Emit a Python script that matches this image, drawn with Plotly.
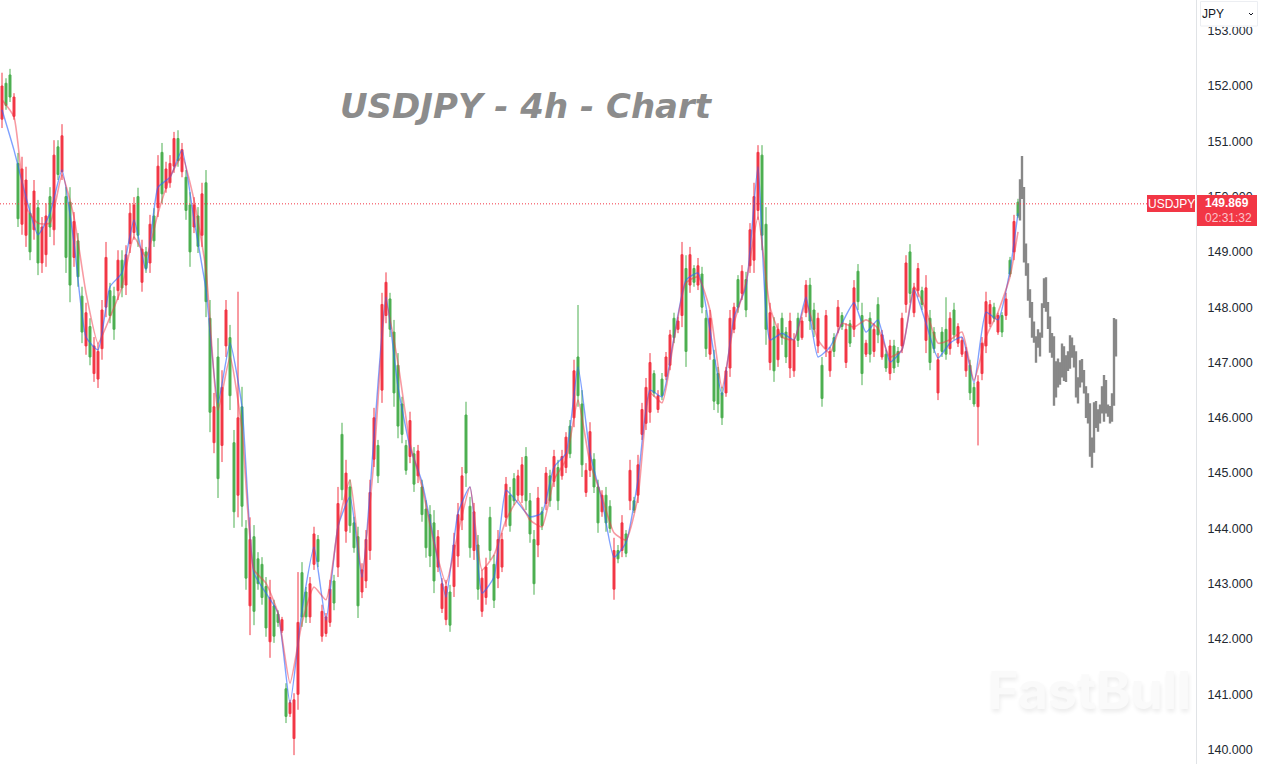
import plotly.graph_objects as go

TITLE = "USDJPY - 4h - Chart"
TICK_VALUES = [140, 141, 142, 143, 144, 145, 146, 147, 148, 149, 150, 151, 152, 153]
LAST_PRICE = 149.869

highs = [
    152.24,152.14,152.31,151.87,150.79,150.72,150.54,149.88,150.30,149.94,149.63,149.88,150.17,151.02,151.02,151.31,150.17,150.17,149.72,149.34,
    148.37,148.08,147.80,147.46,147.35,148.13,149.18,148.44,148.37,149.03,149.03,149.12,149.88,149.99,150.16,149.22,149.09,149.67,149.79,150.75,
    150.97,150.63,150.75,151.17,151.20,150.97,150.48,150.08,149.99,149.81,150.25,150.48,
    148.13,146.45,147.44,146.86,148.13,147.68,145.78,148.28,146.56,144.15,144.2,144.06,143.57,143.48,143.12,143.07,142.71,142.52,142.4,141.2,
    140.9,141.02,143.21,143.39,142.94,143.12,144.03,143.88,142.62,142.47,143.07,143.16,144.75,145.91,145.24,144.88,144.21,144.03,143.37,143.97,
    144.88,146.18,145.6,148.26,148.63,148.26,147.77,147.17,146.38,145.6,146.11,145.47,145.51,144.88,144.51,144.42,144.33,143.97,143.1,143.07,
    142.98,143.92,144.46,145.11,146.29,144.57,144.46,143.88,143.25,143.47,144.39,143.52,143.97,143.92,144.93,144.75,145.0,145.06,145.29,145.47,
    144.64,143.97,144.75,144.39,145.11,145.06,145.42,145.24,145.42,145.74,145.96,147.05,148.04,146.5,145.18,145.92,145.36,144.88,144.69,144.75,
    144.51,143.83,143.7,144.24,143.97,145.24,144.57,145.33,
    146.27,146.72,147.17,146.86,146.5,146.81,147.19,147.59,147.9,147.82,149.18,148.94,149.09,148.76,148.89,148.73,147.95,147.95,147.23,146.92,
    146.56,146.92,147.95,148.08,148.58,148.76,148.64,149.52,150.25,150.93,150.93,149.81,148.08,147.82,147.71,147.9,147.64,147.9,147.53,147.9,
    147.82,148.49,148.53,148.08,147.9,147.1,147.95,147.28,147.53,148.13,147.91,147.71,147.77,148.49,148.78,148.08,147.41,147.91,147.71,148.18,
    147.59,147.23,147.41,147.41,147.28,147.9,148.94,149.14,148.44,148.8,148.37,148.58,147.95,147.64,147.17,147.64,148.18,147.91,148.08,147.71,
    147.46,147.28,147.05,146.63,146.77,147.46,148.28,148.13,148.08,147.9,147.91,148.26,148.91,149.67,149.96,
]
lows = [
    151.24,151.57,151.71,151.39,149.45,149.31,149.09,148.85,149.22,148.58,148.62,148.73,149.27,149.12,150.30,150.30,148.62,148.09,148.73,148.37,
    147.35,147.14,146.95,146.65,146.54,147.05,147.82,147.71,147.41,148.13,148.18,148.22,148.98,149.22,149.09,148.28,148.62,148.62,149.09,149.63,
    149.88,150.07,150.16,150.43,150.54,150.35,149.58,148.73,149.34,148.98,149.09,147.82,
    145.74,145.36,144.55,145.2,147.1,146.14,144.01,144.2,144.03,142.89,142.07,142.25,142.89,142.62,142.04,141.66,141.93,142.22,142.11,140.48,
    140.59,139.9,140.72,142.22,142.29,142.29,143.25,143.3,141.95,142.04,142.22,142.52,143.12,144.51,143.74,143.92,143.56,142.38,142.74,142.92,
    143.43,145.11,144.82,146.27,147.71,147.46,146.2,145.63,145.54,144.97,145.18,144.66,144.82,144.12,143.47,143.3,142.83,143.21,142.47,142.25,
    142.13,142.76,143.3,143.97,144.75,143.47,143.43,142.71,142.4,142.62,143.43,142.56,142.92,143.21,144.03,143.94,144.42,144.51,144.46,144.33,
    143.74,142.8,143.48,143.97,144.33,144.39,144.75,144.33,144.88,145.0,145.27,145.83,146.2,144.93,144.57,144.93,144.64,143.92,144.21,143.94,
    143.92,142.71,143.37,143.48,143.48,144.33,144.28,144.46,
    145.6,145.78,145.91,146.38,146.09,146.32,146.68,146.86,147.35,147.53,147.64,146.92,148.26,148.37,148.31,147.89,147.1,147.05,146.14,146.09,
    145.87,146.38,146.74,147.53,147.9,148.13,147.82,148.62,148.62,149.58,149.03,147.32,146.86,146.65,146.92,147.32,146.99,146.72,146.74,147.28,
    147.41,147.82,147.59,147.46,147.17,146.2,147.1,146.74,147.1,147.53,147.59,146.9,147.28,147.46,147.95,146.59,147.1,147.0,147.1,147.35,
    147.05,146.83,146.68,146.81,146.92,147.17,147.9,148.08,147.82,148.18,147.95,147.17,146.86,147.17,146.32,147.1,147.05,147.14,147.41,147.28,
    147.1,146.74,146.32,146.2,145.5,146.68,147.17,147.64,147.73,147.5,147.46,147.77,148.55,148.85,149.61,
]
opens = [
    151.4,152.05,152.2,151.45,150.6,149.5,149.3,149.7,149.4,149.8,148.8,148.95,150.0,149.4,150.9,150.45,150.0,149.9,148.9,149.2,
    148.2,147.3,147.65,146.8,146.7,147.25,148.0,148.3,148.2,148.3,148.85,148.4,149.15,149.35,150.0,148.45,149.0,148.8,149.65,149.8,
    150.8,150.15,150.25,150.55,151.05,150.45,150.35,149.85,149.45,149.65,149.3,150.25,
    147.8,145.55,147.1,145.5,147.3,147.45,145.55,144.6,146.2,144.0,142.6,143.85,143.45,143.35,142.95,141.95,142.6,142.45,142.15,141.1,
    140.65,140.2,141.0,143.2,142.85,142.4,143.35,143.8,142.05,142.1,142.3,143.05,143.3,145.7,143.95,144.75,144.1,143.85,142.85,143.05,
    143.6,145.25,145.5,146.5,147.85,148.15,147.55,146.95,146.25,145.5,145.3,145.35,144.95,144.75,144.35,144.25,144.1,143.3,142.55,142.35,
    142.85,142.95,143.5,144.15,146.05,144.4,143.6,143.7,142.5,142.75,144.2,143.35,143.1,143.3,144.2,144.6,144.9,144.6,144.6,145.3,
    144.5,143.8,143.7,144.3,144.45,144.95,144.85,145.1,144.95,145.1,145.85,146.0,147.1,146.25,144.65,145.05,145.25,144.75,144.3,144.6,
    144.4,142.9,143.6,143.6,143.9,144.5,144.5,144.6,
    145.7,145.9,146.1,146.8,146.15,146.7,146.75,146.95,147.8,147.6,147.85,148.7,148.4,148.7,148.4,148.6,147.8,147.15,147.05,146.8,
    146.45,146.45,146.9,147.6,148.5,148.25,148.5,148.75,148.85,149.75,150.75,149.5,147.0,147.65,147.05,147.8,147.55,146.9,146.85,147.8,
    147.45,147.9,148.4,147.95,147.3,146.95,147.25,146.85,147.45,147.65,147.85,147.0,147.7,147.6,148.65,147.85,147.15,147.8,147.2,148.05,
    147.1,147.15,146.8,147.3,147.2,147.3,148.05,149.0,147.9,148.3,148.3,147.4,147.8,147.55,146.45,147.55,147.6,147.25,147.95,147.35,
    147.15,146.85,146.95,146.55,146.2,146.8,147.3,147.7,148.0,147.55,147.85,147.85,148.85,149.0,149.9,
]
closes = [
    152.0,151.65,151.8,151.8,149.6,150.5,150.3,149.0,150.1,148.8,149.45,149.65,149.45,150.75,150.4,151.1,148.9,148.4,149.55,148.55,
    147.55,147.9,147.1,147.3,147.2,147.95,148.9,147.85,147.6,148.85,148.35,148.95,149.7,149.85,149.3,149.05,148.7,149.5,149.2,150.55,
    150.05,150.5,150.6,151.05,150.65,150.85,149.75,149.0,149.85,149.1,150.05,148.1,
    146.1,146.2,144.9,146.55,147.95,146.4,144.3,146.0,144.4,143.1,143.8,142.5,143.0,142.75,142.2,142.75,142.05,142.3,142.35,140.6,
    140.85,140.9,142.3,142.4,142.4,143.0,143.9,143.4,142.5,142.4,142.9,142.65,144.45,144.7,145.0,144.05,143.65,142.6,143.25,143.8,
    144.65,146.0,144.95,148.05,148.45,147.6,146.45,145.85,145.7,145.05,145.95,144.8,145.4,144.25,143.65,143.5,143.05,143.85,143.0,142.95,
    142.25,143.7,144.25,144.95,145.0,143.65,144.3,142.9,143.1,143.3,143.6,142.7,143.8,143.8,144.8,144.05,144.5,144.95,145.15,144.5,
    143.9,143.0,144.55,144.05,145.0,144.5,145.3,144.5,145.3,145.65,145.35,146.85,146.4,145.15,145.05,145.75,144.75,144.1,144.6,144.1,
    144.0,143.6,143.45,144.1,143.55,145.05,144.33,145.15,
    146.15,146.55,147.0,146.45,146.4,146.4,147.1,147.5,147.45,147.75,148.95,147.2,148.95,148.45,148.75,148.0,147.25,147.8,146.3,146.25,
    146.0,146.85,147.8,148.0,148.0,148.65,147.95,149.4,150.0,150.8,149.3,147.6,147.9,146.85,147.6,147.45,147.1,147.75,147.4,147.4,
    147.75,148.4,147.75,147.6,147.8,146.35,147.85,147.2,147.2,148.0,147.65,147.6,147.35,148.35,148.1,146.8,147.35,147.15,147.6,147.5,
    147.5,146.9,147.3,146.9,147.0,147.8,148.8,148.25,148.35,148.7,148.05,148.35,147.0,147.25,147.05,147.2,147.15,147.8,147.5,147.65,
    147.4,147.2,146.45,146.25,146.65,147.35,148.1,148.05,147.8,147.85,147.55,148.15,148.6,149.55,149.65,
]

fast_ma = [
    151.57,150.84,149.99,149.31,149.70,150.48,149.16,147.46,147.23,148.37,148.62,149.58,148.67,150.17,150.35,150.84,149.58,148.31,
    146.27,147.35,146.2,143.19,142.83,142.47,140.84,142.52,143.66,142.34,144.03,144.57,143.12,145.65,148.18,146.56,
    145.47,144.84,143.79,142.76,144.28,144.75,142.83,143.12,144.69,144.46,144.21,144.28,145.11,145.36,146.92,145.36,144.51,143.48,143.74,144.88,
    146.5,146.38,147.46,148.49,148.62,147.59,146.41,147.82,148.37,150.54,147.41,147.53,147.41,148.18,147.1,147.28,147.71,
    148.08,147.55,147.77,147.01,147.23,148.31,147.71,147.08,147.35,147.46,146.63,147.91,147.77,148.67,149.7,
]
slow_ma = [
    151.75,151.44,149.81,149.52,149.52,150.39,149.63,148.26,147.35,147.82,148.37,149.27,148.91,149.70,150.35,150.72,149.94,148.67,
    146.14,147.1,145.78,143.25,143.01,142.47,141.2,142.29,142.94,142.71,144.03,144.88,143.19,145.24,148.08,146.99,
    145.54,144.75,143.74,143.01,143.92,144.75,143.25,143.52,144.15,144.51,144.15,144.03,144.88,145.24,146.32,145.18,144.57,143.92,143.79,144.57,
    146.45,146.27,147.41,148.44,148.55,147.95,146.54,147.71,148.44,149.63,148.0,147.46,147.41,148.08,147.41,147.17,147.71,
    147.64,147.77,147.62,147.1,147.23,148.37,147.95,147.35,147.41,147.55,146.68,147.46,147.91,148.55,149.36,
]

ghost_high = [
    150.30,150.72,150.16,149.14,148.78,148.31,148.08,147.73,147.46,147.59,147.53,148.06,148.51,148.53,148.08,147.82,147.52,147.46,147.01,147.06,
    146.99,147.33,147.28,147.12,147.19,147.48,147.44,147.3,147.19,146.72,147.03,147.05,146.85,146.56,146.43,146.25,145.63,146.27,146.29,146.14,
    146.23,146.56,146.76,146.67,146.23,146.2,146.43,147.79,147.77,
]
ghost_low = [
    149.58,149.97,148.82,148.58,148.13,147.82,147.46,147.37,147.01,147.28,147.12,147.46,148.0,147.93,147.62,147.19,147.1,146.23,146.38,146.56,
    146.61,146.74,146.68,146.66,146.86,146.9,147.1,146.92,146.38,146.27,146.56,146.65,146.45,146.01,145.91,145.31,145.11,145.38,145.83,145.76,
    145.91,146.09,145.94,146.09,146.03,145.91,145.94,146.23,147.12,
]

# x axis is counted in half-bars: real bars sit 2 units apart
bar_x = [2 + 4 * i for i in range(len(highs))]
ma_x = bar_x[::3] + [bar_x[-1]]
ghost_x = [1020 + 2 * i for i in range(len(ghost_high))]
assert len(highs) == len(lows) == len(opens) == len(closes), (len(highs), len(lows), len(opens), len(closes))
assert len(ma_x) == len(fast_ma) == len(slow_ma), (len(ma_x), len(fast_ma), len(slow_ma))

RED = "#f23645"
GREEN = "#4caf50"
W, H = 1261, 764
PLOT_R = 1196
PX_PER_UNIT = 55.3
Y_MAX = 152 + 86 / PX_PER_UNIT
Y_MIN = 152 - (H - 86) / PX_PER_UNIT

fig = go.Figure()
fig.add_trace(go.Candlestick(
    x=ghost_x, open=ghost_low, high=ghost_high, low=ghost_low, close=ghost_high, xaxis="x2",
    increasing=dict(line=dict(color="#888888", width=1.4), fillcolor="#888888"),
    decreasing=dict(line=dict(color="#888888", width=1.4), fillcolor="#888888"),
    name="ghost", whiskerwidth=0,
))
fig.add_trace(go.Candlestick(
    x=bar_x, open=opens, high=highs, low=lows, close=closes,
    increasing=dict(line=dict(color=RED, width=1), fillcolor=RED),
    decreasing=dict(line=dict(color=GREEN, width=1), fillcolor=GREEN),
    name="USDJPY", whiskerwidth=0,
))
fig.add_trace(go.Scatter(x=ma_x, y=fast_ma, mode="lines",
                         line=dict(color="rgba(41,98,255,0.6)", width=1.4, shape="spline", smoothing=0.5)))
fig.add_trace(go.Scatter(x=ma_x, y=slow_ma, mode="lines",
                         line=dict(color="rgba(242,54,69,0.5)", width=1.6, shape="spline", smoothing=0.5)))

def px(x):
    return x / W
def py(y):
    return 1 - y / H

shapes = [
    dict(type="line", xref="paper", yref="y", x0=0, x1=px(1147), y0=LAST_PRICE, y1=LAST_PRICE,
         line=dict(color=RED, width=1, dash="1px,2px"), layer="above"),
    dict(type="rect", xref="paper", yref="paper", x0=px(1147), x1=px(1195), y0=py(195), y1=py(212),
         fillcolor=RED, line=dict(width=0), layer="above"),
    dict(type="rect", xref="paper", yref="paper", x0=px(1197), x1=px(1257), y0=py(195), y1=py(226),
         fillcolor=RED, line=dict(width=0), layer="above"),
    dict(type="rect", xref="paper", yref="paper", x0=px(1197), x1=px(1261), y0=py(0), y1=py(27),
         fillcolor="white", line=dict(width=0), layer="above"),
    dict(type="rect", xref="paper", yref="paper", x0=px(1200.5), x1=px(1257.5), y0=py(1.5), y1=py(26),
         fillcolor="white", line=dict(color="#eceef2", width=1), layer="above"),
    dict(type="path", xref="paper", yref="paper", layer="above",
         path=f"M {px(1249)} {py(13)} L {px(1251)} {py(15)} L {px(1253)} {py(13)}",
         line=dict(color="#131722", width=1)),
]

LABEL_FONT = "Liberation Sans"
def note(x, y, text, size, color, family=LABEL_FONT):
    return dict(xref="paper", yref="paper", x=px(x), y=py(y), text=text, showarrow=False,
                xanchor="center", yanchor="middle", borderpad=0,
                font=dict(size=size, color=color, family=family))

annotations = [
    note(526, 106, f"<b><i>{TITLE}</i></b>", 34, "#8c8c8c", family="DejaVu Sans"),
    note(1089, 690, "<b>FastBull</b>", 52, "#fafafa", family="Inter"),
    note(1171, 204, "USDJPY", 12, "#ffffff"),
    note(1227, 203, "<b>149.869</b>", 12, "#ffffff"),
    note(1228, 218, "02:31:32", 12, "#fbc4ca"),
    note(1213, 14, "JPY", 12, "#131722"),
]
annotations[1]["font"]["shadow"] = "1px 3px 4px #ececec"

fig.update_layout(
    width=W, height=H, autosize=False, showlegend=False,
    margin=dict(l=0, r=0, t=0, b=0),
    paper_bgcolor="white", plot_bgcolor="white",
    xaxis=dict(domain=[0, PLOT_R / W], range=[0, PLOT_R], rangeslider=dict(visible=False),
               showgrid=False, zeroline=False, showticklabels=False, ticks="", showline=False),
    xaxis2=dict(overlaying="x", range=[0, PLOT_R], anchor="y", rangeslider=dict(visible=False),
                showgrid=False, zeroline=False, showticklabels=False, ticks="", showline=False),
    yaxis=dict(side="right", range=[Y_MIN, Y_MAX], tickvals=TICK_VALUES,
               ticktext=[f"{v:.3f}" for v in TICK_VALUES], showgrid=False, zeroline=False,
               ticks="", ticklabelstandoff=8, showline=True, linecolor="#e0e3e6", linewidth=1,
               tickfont=dict(size=12.5, color="#222831", family=LABEL_FONT)),
    shapes=shapes, annotations=annotations, hovermode=False,
)
fig.write_html("out.html", config=dict(displayModeBar=False),
               post_script="document.body.style.margin='0';document.body.style.overflow='hidden';")
